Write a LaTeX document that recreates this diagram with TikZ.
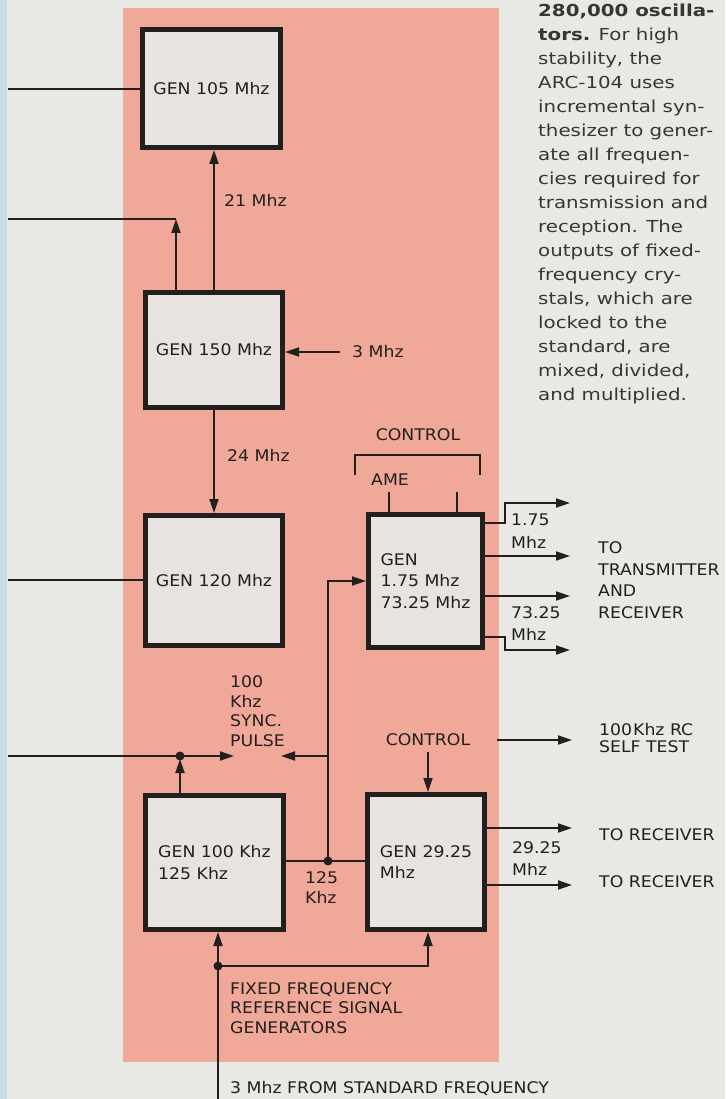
\documentclass[tikz,border=0pt]{standalone}
\usepackage{fontspec}
\usetikzlibrary{arrows.meta,positioning,calc}
\newfontfamily\lblfont[FakeStretch=1.08]{DejaVu Sans}
\newfontfamily\txtfont[FakeStretch=1.2]{DejaVu Sans}
\definecolor{page}{HTML}{E8E8E4}
\definecolor{strip}{HTML}{C6DEE8}
\definecolor{salmon}{HTML}{F0A898}
\definecolor{boxfill}{HTML}{E6E3E0}
\definecolor{ink}{HTML}{231F1E}

\begin{document}
\begin{tikzpicture}[x=1pt,y=-1pt,
  genbox/.style={draw=ink,fill=boxfill,line width=5pt,inner sep=0pt,align=left,
    font=\lblfont\fontsize{16}{21.5}\selectfont,text=ink},
  lbl/.style={font=\lblfont\fontsize{16}{20}\selectfont,text=ink,inner sep=0pt,align=left},
  pitch/.style={font=\lblfont\fontsize{16}{#1}\selectfont},
  sig/.style={draw=ink,line width=1.9pt},
  >={Triangle[length=14pt,width=9pt]}]
  \useasboundingbox[fill=page] (0,0) rectangle (725,1099);
  \fill[strip] (0,0) rectangle (7,1099);
  \fill[salmon] (123,8) rectangle (499,1062);

  \node[genbox,minimum width=138pt,minimum height=118pt] (gen105) at (211.5,88.5) {GEN 105 Mhz};
  \node[genbox,minimum width=137pt,minimum height=115pt] (gen150) at (214,350) {GEN 150 Mhz};
  \node[genbox,minimum width=137pt,minimum height=130pt] (gen120) at (214,580.5) {GEN 120 Mhz};
  \node[genbox,minimum width=114pt,minimum height=133pt] (gen175) at (425.5,581) {GEN\\1.75 Mhz\\73.25 Mhz};
  \node[genbox,minimum width=138pt,minimum height=134pt] (gen100) at (214.5,862.5) {GEN 100 Khz\\125 Khz};
  \node[genbox,minimum width=117pt,minimum height=135pt] (gen2925) at (426,862) {GEN 29.25\\Mhz};

  \node[lbl,anchor=west] (f21) at (224,200) {21 Mhz};
  \node[lbl,anchor=west] (f24) at (227,455) {24 Mhz};
  \node[lbl,anchor=west] (in3) at (352,352) {3 Mhz};
  \node[lbl] (ctl1) at (418,435) {CONTROL};
  \node[lbl] (ame) at (390,480) {AME};
  \node[lbl,pitch=23,anchor=west] (f175) at (511,531) {1.75\\Mhz};
  \node[lbl,pitch=22,anchor=west] (f7325) at (511,624) {73.25\\Mhz};
  \node[lbl,pitch=21.5,anchor=west] (totx) at (598,580) {TO\\TRANSMITTER\\AND\\RECEIVER};
  \node[lbl,pitch=19.5,anchor=west] (sync) at (230,711) {100\\Khz\\SYNC.\\PULSE};
  \node[lbl] (ctl2) at (428,740) {CONTROL};
  \node[lbl,pitch=17.5,anchor=west] (selftest) at (599,738) {100\kern1pt Khz RC\\SELF TEST};
  \node[lbl,anchor=west] (f125) at (305,888) {125\\Khz};
  \node[lbl,pitch=22,anchor=west] (f2925) at (512,859) {29.25\\Mhz};
  \node[lbl,anchor=west] (rx1) at (599,835) {TO RECEIVER};
  \node[lbl,anchor=west] (rx2) at (599,882) {TO RECEIVER};
  \node[lbl,pitch=19.5,anchor=west] (fixed) at (230,1008) {FIXED FREQUENCY\\REFERENCE SIGNAL\\GENERATORS};
  \node[lbl,anchor=west] (std) at (230,1088) {3 Mhz FROM STANDARD FREQUENCY};

  \node[anchor=north west,inner sep=0pt,align=left,text=ink!90,
    font=\txtfont\fontsize{16.5}{24}\selectfont] (note) at (538,4)
    {{\bfseries 280,000 oscilla-}\\{\bfseries tors.} For high\\stability, the\\ARC-104 uses\\
     incremental syn-\\thesizer to gener-\\ate all frequen-\\cies required for\\
     transmission and\\reception. The\\outputs of fixed-\\frequency cry-\\
     stals, which are\\locked to the\\standard, are\\mixed, divided,\\and multiplied.};

  \coordinate (l1) at (8,89);
  \draw[sig] (gen105.west |- l1) -- (l1);
  \draw[sig,->] (gen150.north) -- (gen150.north |- gen105.south);
  \coordinate (c2) at (176,219);
  \coordinate (l2) at (8,219);
  \draw[sig,->] (gen150.north -| c2) -- (c2);
  \draw[sig] (c2) -- (l2);
  \draw[sig,->] ([xshift=-12pt]in3.west) -- (in3.west -| gen150.east);
  \draw[sig,->] (gen150.south) -- (gen150.south |- gen120.north);
  \coordinate (l3) at (8,580);
  \draw[sig] (gen120.west |- l3) -- (l3);

  \coordinate (b1) at (355,475);
  \coordinate (b2) at (480,475);
  \draw[sig] (b1) -- ++(0,-20) -| (b2);
  \coordinate (k1) at (389,492);
  \coordinate (k2) at (457,492);
  \draw[sig] (k1) -- (k1 |- gen175.north);
  \draw[sig] (k2) -- (k2 |- gen175.north);

  \coordinate (o1) at (505,523);
  \coordinate (t1) at (570,503);
  \draw[sig,->] (gen175.east |- o1) -- (o1) |- (t1);
  \coordinate (t2) at (570,556);
  \draw[sig,->] (gen175.east |- t2) -- (t2);
  \coordinate (t3) at (570,596);
  \draw[sig,->] (gen175.east |- t3) -- (t3);
  \coordinate (o4) at (505,637);
  \coordinate (t4) at (570,650);
  \draw[sig,->] (gen175.east |- o4) -- (o4) |- (t4);

  \coordinate (j125) at (328,861);
  \draw[sig] (gen100.east |- j125) -- (gen2925.west |- j125);
  \draw[sig,->] (j125) |- (gen175.west);
  \coordinate (s2) at (328,756);
  \coordinate (s2t) at (281,756);
  \draw[sig,->] (s2) -- (s2t);
  \fill[ink] (j125) circle (4.5);

  \coordinate (j100) at (180,756);
  \coordinate (l4) at (8,756);
  \coordinate (s1t) at (234,756);
  \draw[sig] (l4) -- (j100);
  \draw[sig,->] (j100) -- (s1t);
  \draw[sig,->,shorten >=3pt] (gen100.north -| j100) -- (j100);
  \fill[ink] (j100) circle (4.5);

  \coordinate (jref) at (218,966);
  \coordinate (src) at (218,1099);
  \draw[sig] (src) -- (jref);
  \draw[sig,->] (jref) -- (jref |- gen100.south);
  \draw[sig,->] (jref) -| ([xshift=2pt]gen2925.south);
  \fill[ink] (jref) circle (4.5);

  \draw[sig,->,shorten <=6pt] (ctl2.south) -- (ctl2.south |- gen2925.north);
  \coordinate (a1) at (497,740);
  \coordinate (a2) at (572,740);
  \draw[sig,->] (a1) -- (a2);
  \coordinate (r1) at (572,828);
  \coordinate (r2) at (572,885);
  \draw[sig,->] (gen2925.east |- r1) -- (r1);
  \draw[sig,->] (gen2925.east |- r2) -- (r2);
\end{tikzpicture}
\end{document}
